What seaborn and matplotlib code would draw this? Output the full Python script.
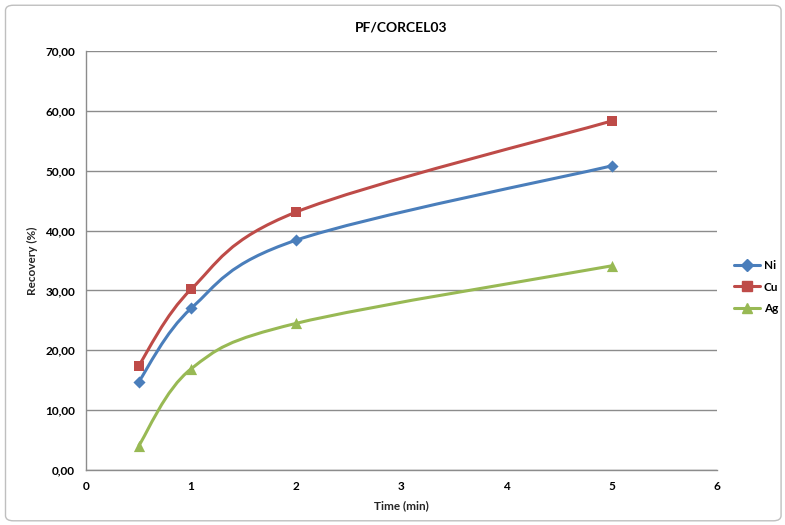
import numpy as np
import pandas as pd
import matplotlib
matplotlib.use("Agg")
import matplotlib.pyplot as plt
import seaborn as sns
from matplotlib.path import Path
from matplotlib.patches import PathPatch, FancyBboxPatch
from matplotlib.lines import Line2D
from matplotlib.ticker import FuncFormatter, MultipleLocator

time_min = [0.5, 1, 2, 5]
ni = [14.7, 27.0, 38.4, 50.8]
cu = [17.4, 30.2, 43.1, 58.3]
ag = [4.0, 16.9, 24.5, 34.1]
series_names = ["Ni", "Cu", "Ag"]

df = pd.DataFrame({
    "time": time_min * 3,
    "recovery": ni + cu + ag,
    "metal": [m for m in series_names for _ in time_min],
})

colors = {"Ni": "#4A7EBB", "Cu": "#BE4B48", "Ag": "#98B954"}
markers = {"Ni": "D", "Cu": "s", "Ag": "^"}
msizes = {"Ni": 38, "Cu": 60, "Ag": 65}

sns.set_theme(style="white")
plt.rcParams["font.family"] = ["Lato", "DejaVu Sans"]
plt.rcParams["font.weight"] = "bold"
plt.rcParams["text.color"] = "black"
plt.rcParams["xtick.color"] = "black"
plt.rcParams["ytick.color"] = "black"


def smooth_path(xs, ys):
    # Excel-like smoothed line: Catmull-Rom as cubic Bezier segments
    pts = np.column_stack([xs, ys]).astype(float)
    n = len(pts)
    verts = [pts[0]]
    codes = [Path.MOVETO]
    for i in range(n - 1):
        p0 = pts[i - 1] if i > 0 else pts[i]
        p1, p2 = pts[i], pts[i + 1]
        p3 = pts[i + 2] if i + 2 < n else pts[i + 1]
        verts += [p1 + (p2 - p0) / 6, p2 - (p3 - p1) / 6, p2]
        codes += [Path.CURVE4] * 3
    return Path(verts, codes)


fig = plt.figure(figsize=(7.85, 5.25), dpi=100)
ax = fig.add_axes([0.1096, 0.1048, 0.8034, 0.7981])

for name in series_names:
    sub = df[df["metal"] == name]
    ax.add_patch(PathPatch(smooth_path(sub["time"], sub["recovery"]),
                           facecolor="none", edgecolor=colors[name], lw=2.2, zorder=2))
    sns.scatterplot(data=sub, x="time", y="recovery", marker=markers[name],
                    color=colors[name], s=msizes[name], linewidth=0, ax=ax, zorder=3)

ax.set_xlim(0, 6)
ax.set_ylim(0, 70)
ax.xaxis.set_major_locator(MultipleLocator(1))
ax.yaxis.set_major_locator(MultipleLocator(10))
ax.yaxis.set_major_formatter(FuncFormatter(lambda v, p: f"{v:.2f}".replace(".", ",")))
ax.grid(axis="y", color="#8C8C8C", lw=1)
ax.set_axisbelow(True)
for s in ["top", "right"]:
    ax.spines[s].set_visible(False)
for s in ["left", "bottom"]:
    ax.spines[s].set_color("#8C8C8C")
    ax.spines[s].set_linewidth(1)
ax.tick_params(axis="both", length=0, labelsize=8.5, pad=8)

ax.set_title("PF/CORCEL03", fontsize=10, fontweight="bold", pad=14)
ax.set_xlabel("Time (min)", fontsize=8.5, fontweight="bold", labelpad=6)
ax.set_ylabel("Recovery (%)", fontsize=8.5, fontweight="bold", labelpad=5)

handles = [Line2D([0], [0], color=colors[n], lw=2.2, marker=markers[n],
                  markersize=6 if n == "Ni" else 7) for n in series_names]
leg = fig.legend(handles, series_names, loc="upper left", bbox_to_anchor=(0.922, 0.525),
                 frameon=False, handlelength=2.2, handletextpad=0.3, labelspacing=0.9,
                 prop={"weight": "bold", "size": 8.5})

fig.patches.append(FancyBboxPatch((0.007, 0.008), 0.988, 0.982, boxstyle="round,pad=0,rounding_size=0.01",
                                  transform=fig.transFigure, facecolor="none",
                                  edgecolor="#BFBFBF", lw=1))

fig.savefig("out.png", dpi=100)
